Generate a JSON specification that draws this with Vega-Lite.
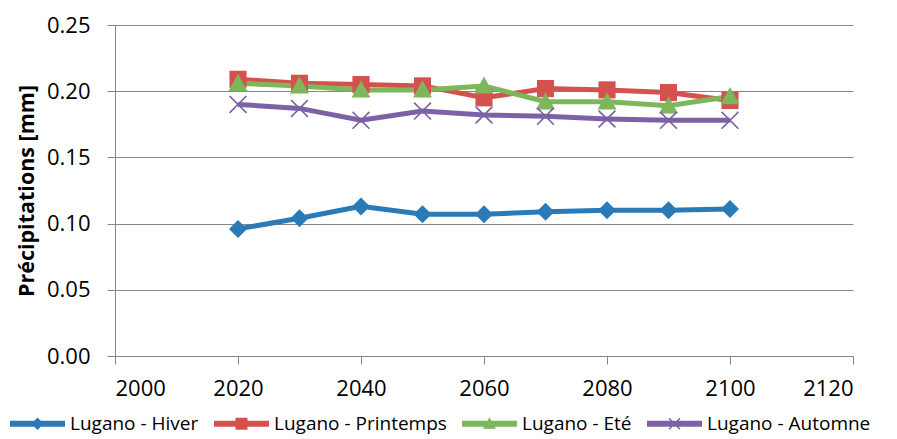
{
  "$schema": "https://vega.github.io/schema/vega-lite/v6.json",
  "width": 738,
  "height": 331,
  "autosize": {"type": "none"},
  "padding": {"left": 115, "top": 25, "right": 44, "bottom": 83},
  "background": "white",
  "config": {
    "font": "Open Sans",
    "view": {"stroke": null},
    "axis": {
      "domainColor": "#868686",
      "tickColor": "#868686",
      "gridColor": "#868686",
      "labelFont": "Open Sans",
      "labelFontSize": 22,
      "labelColor": "#000000",
      "titleColor": "#000000"
    },
    "legend": {"labelFont": "Open Sans", "labelFontSize": 19, "labelColor": "#000000", "labelLimit": 400}
  },
  "data": {
    "values": [
      {"year": 2020, "series": "Lugano - Hiver", "value": 0.096},
      {"year": 2030, "series": "Lugano - Hiver", "value": 0.104},
      {"year": 2040, "series": "Lugano - Hiver", "value": 0.113},
      {"year": 2050, "series": "Lugano - Hiver", "value": 0.107},
      {"year": 2060, "series": "Lugano - Hiver", "value": 0.107},
      {"year": 2070, "series": "Lugano - Hiver", "value": 0.109},
      {"year": 2080, "series": "Lugano - Hiver", "value": 0.110},
      {"year": 2090, "series": "Lugano - Hiver", "value": 0.110},
      {"year": 2100, "series": "Lugano - Hiver", "value": 0.111},
      {"year": 2020, "series": "Lugano - Printemps", "value": 0.209},
      {"year": 2030, "series": "Lugano - Printemps", "value": 0.206},
      {"year": 2040, "series": "Lugano - Printemps", "value": 0.205},
      {"year": 2050, "series": "Lugano - Printemps", "value": 0.204},
      {"year": 2060, "series": "Lugano - Printemps", "value": 0.195},
      {"year": 2070, "series": "Lugano - Printemps", "value": 0.202},
      {"year": 2080, "series": "Lugano - Printemps", "value": 0.201},
      {"year": 2090, "series": "Lugano - Printemps", "value": 0.199},
      {"year": 2100, "series": "Lugano - Printemps", "value": 0.193},
      {"year": 2020, "series": "Lugano - Eté", "value": 0.206},
      {"year": 2030, "series": "Lugano - Eté", "value": 0.204},
      {"year": 2040, "series": "Lugano - Eté", "value": 0.201},
      {"year": 2050, "series": "Lugano - Eté", "value": 0.201},
      {"year": 2060, "series": "Lugano - Eté", "value": 0.204},
      {"year": 2070, "series": "Lugano - Eté", "value": 0.192},
      {"year": 2080, "series": "Lugano - Eté", "value": 0.192},
      {"year": 2090, "series": "Lugano - Eté", "value": 0.189},
      {"year": 2100, "series": "Lugano - Eté", "value": 0.196},
      {"year": 2020, "series": "Lugano - Automne", "value": 0.190},
      {"year": 2030, "series": "Lugano - Automne", "value": 0.187},
      {"year": 2040, "series": "Lugano - Automne", "value": 0.178},
      {"year": 2050, "series": "Lugano - Automne", "value": 0.185},
      {"year": 2060, "series": "Lugano - Automne", "value": 0.182},
      {"year": 2070, "series": "Lugano - Automne", "value": 0.181},
      {"year": 2080, "series": "Lugano - Automne", "value": 0.179},
      {"year": 2090, "series": "Lugano - Automne", "value": 0.178},
      {"year": 2100, "series": "Lugano - Automne", "value": 0.178}
    ]
  },
  "encoding": {
    "x": {
      "field": "year", "type": "quantitative",
      "scale": {"domain": [2000, 2120], "nice": false, "zero": false},
      "axis": {"title": null, "values": [2000, 2020, 2040, 2060, 2080, 2100, 2120], "format": "d", "grid": false, "tickSize": 8, "labelPadding": 14}
    },
    "y": {
      "field": "value", "type": "quantitative",
      "scale": {"domain": [0, 0.25], "nice": false},
      "axis": {"title": "Précipitations [mm]", "titleFontSize": 21.5, "titleFontWeight": "bold", "titleFont": "Open Sans", "titlePadding": 8, "values": [0, 0.05, 0.1, 0.15, 0.2, 0.25], "format": ".2f", "grid": true, "tickSize": 8, "labelPadding": 17}
    }
  },
  "layer": [
    {
      "mark": {"type": "line", "strokeWidth": 5},
      "encoding": {
        "color": {"field": "series", "type": "nominal", "legend": null,
          "scale": {"domain": ["Lugano - Hiver", "Lugano - Printemps", "Lugano - Eté", "Lugano - Automne"], "range": ["#2A7AB8", "#D5514E", "#7DB65B", "#7D61A7"]}},
        "detail": {"field": "series"}
      }
    },
    {
      "mark": {"type": "point", "filled": true, "opacity": 1, "size": 324},
      "encoding": {
        "color": {"field": "series", "type": "nominal", "legend": null,
          "scale": {"domain": ["Lugano - Hiver", "Lugano - Printemps", "Lugano - Eté", "Lugano - Automne"], "range": ["#2A7AB8", "#D5514E", "#7DB65B", "#7D61A7"]}},
        "shape": {"field": "series", "type": "nominal", "legend": null,
          "scale": {"domain": ["Lugano - Hiver", "Lugano - Printemps", "Lugano - Eté", "Lugano - Automne"],
            "range": ["M0,-1L1,0L0,1L-1,0Z", "M-0.95,-0.95H0.95V0.95H-0.95Z", "M0,-1.05L1.05,0.85H-1.05Z", "M-1,-0.87L-0.87,-1L0,-0.13L0.87,-1L1,-0.87L0.13,0L1,0.87L0.87,1L0,0.13L-0.87,1L-1,0.87L-0.13,0Z"]}}
      }
    },
    {
      "mark": {"type": "point", "filled": true, "opacity": 0},
      "encoding": {
        "color": {"field": "series", "type": "nominal",
          "scale": {"domain": ["Lugano - Hiver", "Lugano - Printemps", "Lugano - Eté", "Lugano - Automne"], "range": ["#2A7AB8", "#D5514E", "#7DB65B", "#7D61A7"]},
          "legend": {"title": null, "orient": "none", "direction": "horizontal", "legendX": -87, "legendY": 389, "symbolSize": 100, "symbolOpacity": 1, "labelOffset": 23, "columnPadding": 15, "symbolStrokeWidth": 0}},
        "shape": {"field": "series", "type": "nominal",
          "scale": {"domain": ["Lugano - Hiver", "Lugano - Printemps", "Lugano - Eté", "Lugano - Automne"],
            "range": ["M-5.5,-0.6H5.5V0.6H-5.5Z M0,-1.25L1.25,0L0,1.25L-1.25,0Z", "M-5.5,-0.6H5.5V0.6H-5.5Z M-1.2,-1.2H1.2V1.2H-1.2Z", "M-5.5,-0.6H5.5V0.6H-5.5Z M0,-1.3L1.3,1H-1.3Z", "M-5.5,-0.6H5.5V0.6H-5.5Z M-1.2,-1L-1,-1.2L0,-0.2L1,-1.2L1.2,-1L0.2,0L1.2,1L1,1.2L0,0.2L-1,1.2L-1.2,1L-0.2,0Z"]},
          "legend": {"title": null, "orient": "none", "direction": "horizontal", "legendX": -87, "legendY": 389, "symbolSize": 100, "symbolOpacity": 1, "labelOffset": 23, "columnPadding": 15, "symbolStrokeWidth": 0}}
      }
    }
  ],
  "resolve": {"scale": {"shape": "independent", "color": "independent"}}
}
